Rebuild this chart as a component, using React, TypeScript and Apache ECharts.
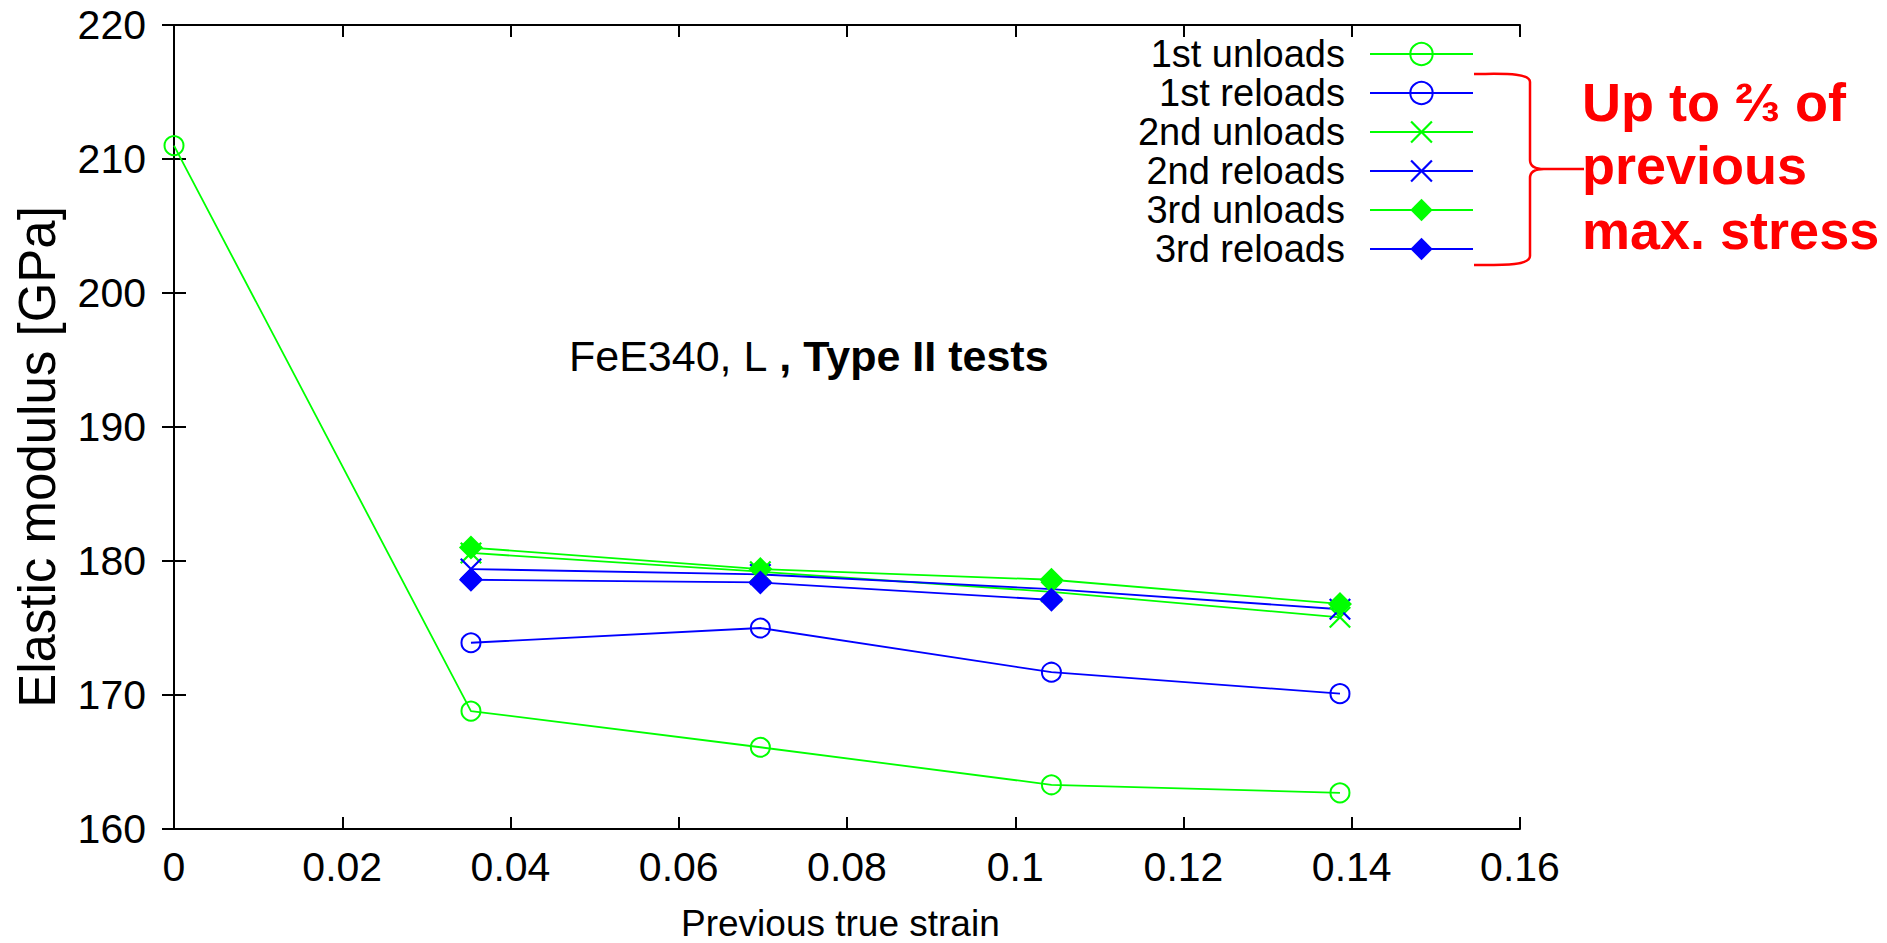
import React, { useEffect, useRef } from "react";
import * as echarts from "echarts";

// ---- data ----
const strainAll = [0, 0.0353, 0.0697, 0.1043, 0.1386];
const strainLater = [0.0353, 0.0697, 0.1043, 0.1386];
const strainThree = [0.0353, 0.0697, 0.1043];

const firstUnloads = [211.0, 168.8, 166.1, 163.3, 162.7];
const firstReloads = [173.9, 175.0, 171.7, 170.1];
const secondUnloads = [180.6, 179.2, 177.7, 175.8];
const secondReloads = [179.4, 179.0, 177.9, 176.4];
const thirdUnloads = [181.0, 179.4, 178.6, 176.8];
const thirdReloads = [178.6, 178.4, 177.1];

const seriesNames = [
  "1st unloads",
  "1st reloads",
  "2nd unloads",
  "2nd reloads",
  "3rd unloads",
  "3rd reloads",
];

const xMin = 0;
const xMax = 0.16;
const xStep = 0.02;
const yMin = 160;
const yMax = 220;
const yStep = 10;

const xTitle = "Previous true strain";
const yTitle = "Elastic modulus [GPa]";
const annotationLines = ["Up to \u2154 of", "previous", "max. stress"];

const GREEN = "#00ff00";
const BLUE = "#0000ff";
const RED = "#ff0000";
const FONT = "'Liberation Sans', Arial, Helvetica, sans-serif";

const CROSS =
  "path://M0,1.4L1.4,0L10,8.6L18.6,0L20,1.4L11.4,10L20,18.6L18.6,20L10,11.4L1.4,20L0,18.6L8.6,10Z";

const BRACE_D =
  "M1474 74 C1500 74 1530 72 1530 82 L1530 160 C1530 166 1534 169 1544 169 L1584 169 M1544 169 C1534 169 1530 172 1530 178 L1530 256 C1530 266 1500 265 1474 265";

echarts.graphic.registerShape("brace", echarts.graphic.extendPath(BRACE_D, {}));

function pairs(xs: number[], ys: number[]) {
  return ys.map((y, i) => [xs[i], y]);
}

function makeSeries(
  name: string,
  xs: number[],
  ys: number[],
  color: string,
  kind: "circle" | "cross" | "diamond"
) {
  const base: any = {
    type: "line",
    name,
    data: pairs(xs, ys),
    xAxisIndex: 0,
    yAxisIndex: 0,
    lineStyle: { color, width: 1.8 },
    emphasis: { disabled: true },
  };
  if (kind === "circle") {
    base.symbol = "circle";
    base.symbolSize = 19;
    base.itemStyle = { color: "rgba(0,0,0,0)", borderColor: color, borderWidth: 2 };
  } else if (kind === "cross") {
    base.symbol = CROSS;
    base.symbolSize = 22;
    base.itemStyle = { color, borderWidth: 0 };
  } else {
    base.symbol = "diamond";
    base.symbolSize = 24;
    base.itemStyle = { color, borderWidth: 0 };
  }
  return base;
}

export default function App() {
  const ref = useRef<HTMLDivElement>(null);

  useEffect(() => {
    if (!ref.current) return;
    const chart = echarts.init(ref.current, undefined, { renderer: "svg" });

    const axisCommon = {
      axisLine: { show: true, lineStyle: { color: "#000", width: 2 } },
      axisTick: { show: true, inside: true, length: 12, lineStyle: { color: "#000", width: 2 } },
      splitLine: { show: false },
    };

    const option: any = {
      animation: false,
      backgroundColor: "#fff",
      textStyle: { fontFamily: FONT },
      grid: { left: 174, top: 25, width: 1346, height: 804, containLabel: false },
      xAxis: [
        {
          type: "value",
          min: xMin,
          max: xMax,
          interval: xStep,
          position: "bottom",
          ...axisCommon,
          axisLabel: {
            show: true,
            color: "#000",
            fontSize: 41,
            fontFamily: FONT,
            margin: 17,
            formatter: (v: number) => String(+v.toFixed(2)),
          },
        },
        {
          type: "value",
          min: xMin,
          max: xMax,
          interval: xStep,
          position: "top",
          ...axisCommon,
          axisLabel: { show: false },
        },
      ],
      yAxis: [
        {
          type: "value",
          min: yMin,
          max: yMax,
          interval: yStep,
          position: "left",
          ...axisCommon,
          axisLabel: {
            show: true,
            color: "#000",
            fontSize: 41,
            fontFamily: FONT,
            margin: 28,
          },
        },
        {
          type: "value",
          min: yMin,
          max: yMax,
          interval: yStep,
          position: "right",
          ...axisCommon,
          axisLabel: { show: false },
        },
      ],
      legend: {
        orient: "vertical",
        right: 413,
        top: 35,
        padding: 0,
        align: "right",
        itemWidth: 103,
        itemHeight: 28,
        itemGap: 1,
        selectedMode: false,
        data: seriesNames,
        textStyle: {
          color: "#000",
          fontSize: 38,
          fontFamily: FONT,
          lineHeight: 38,
          padding: [0, 20, 0, 0],
        },
      },
      series: [
        makeSeries(seriesNames[0], strainAll, firstUnloads, GREEN, "circle"),
        makeSeries(seriesNames[1], strainLater, firstReloads, BLUE, "circle"),
        makeSeries(seriesNames[2], strainLater, secondUnloads, GREEN, "cross"),
        makeSeries(seriesNames[3], strainLater, secondReloads, BLUE, "cross"),
        makeSeries(seriesNames[4], strainLater, thirdUnloads, GREEN, "diamond"),
        makeSeries(seriesNames[5], strainThree, thirdReloads, BLUE, "diamond"),
      ],
      graphic: [
        {
          type: "text",
          x: 569,
          y: 356,
          style: {
            text: "{r|FeE340, L }{b|, Type II tests}",
            textVerticalAlign: "middle",
            rich: {
              r: { fontSize: 43, fontFamily: FONT, fontWeight: "normal", fill: "#000" },
              b: { fontSize: 43, fontFamily: FONT, fontWeight: "bold", fill: "#000" },
            },
          },
        },
        {
          type: "text",
          x: 37,
          y: 457,
          rotation: Math.PI / 2,
          style: {
            text: yTitle,
            fill: "#000",
            fontSize: 51,
            fontFamily: FONT,
            textAlign: "center",
            textVerticalAlign: "middle",
          },
        },
        {
          type: "text",
          x: 681,
          y: 923,
          style: {
            text: xTitle,
            fill: "#000",
            fontSize: 37,
            fontFamily: FONT,
            textAlign: "left",
            textVerticalAlign: "middle",
          },
        },
        {
          type: "brace",
          x: 0,
          y: 0,
          style: { stroke: RED, fill: "none", lineWidth: 2.5 },
        },
        ...annotationLines.map((t, i) => ({
          type: "text",
          x: 1582,
          y: [102, 165, 230][i],
          style: {
            text: t,
            fill: RED,
            fontSize: 54,
            fontWeight: "bold",
            fontFamily: FONT,
            textAlign: "left",
            textVerticalAlign: "middle",
          },
        })),
      ],
    };

    chart.setOption(option);
    return () => {
      chart.dispose();
    };
  }, []);

  return (
    <div
      ref={ref}
      style={{ position: "fixed", left: 0, top: 0, width: 1887, height: 943, background: "#fff" }}
    />
  );
}
